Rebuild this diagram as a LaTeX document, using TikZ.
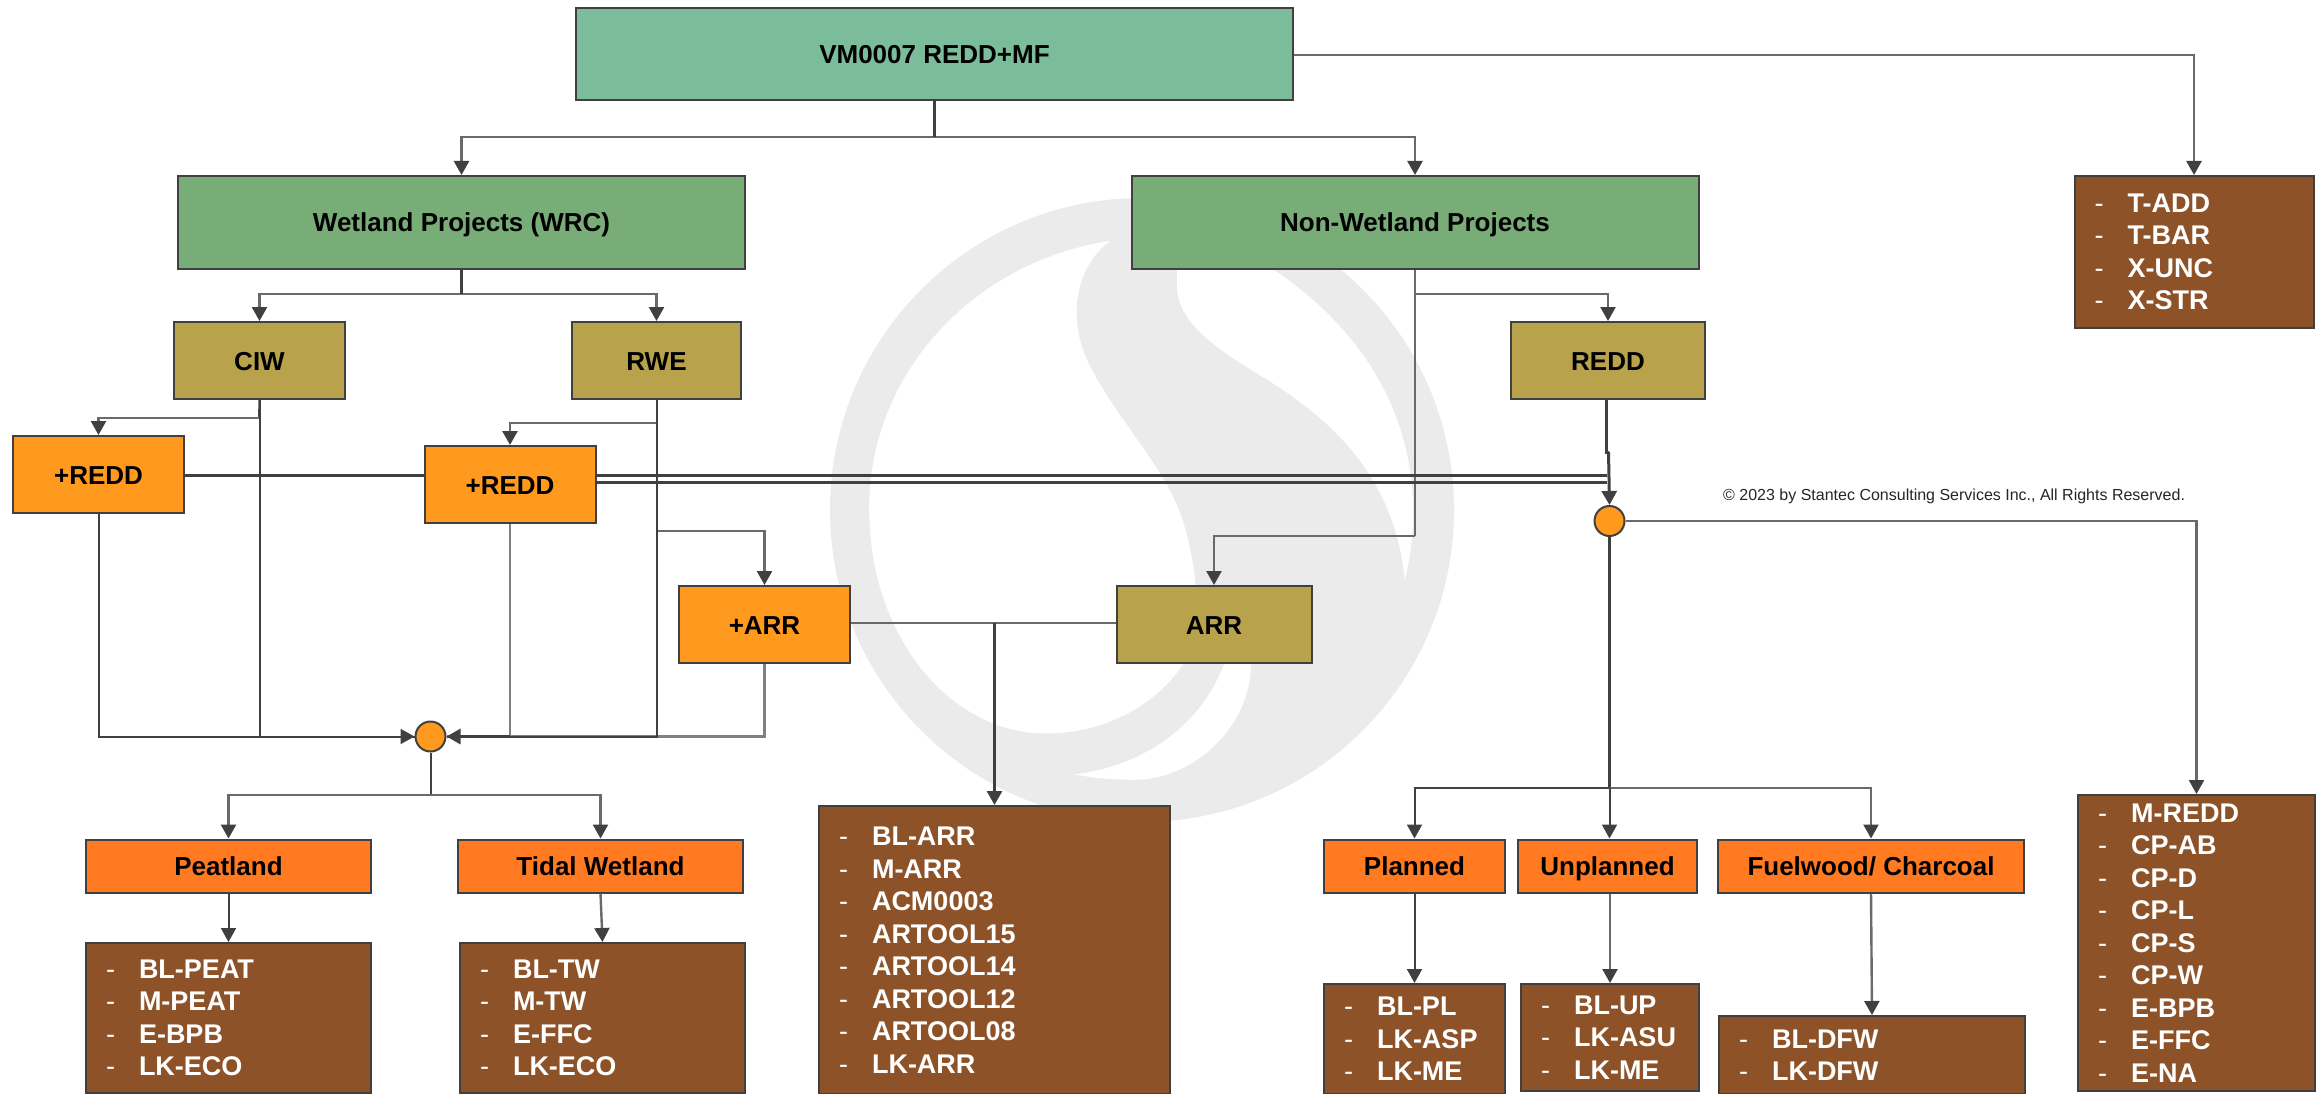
\documentclass[tikz,border=0pt]{standalone}
\usepackage{fontspec}
\setmainfont{Liberation Sans}
\usetikzlibrary{arrows.meta}
\definecolor{ln}{HTML}{404040}
\definecolor{lg}{HTML}{6A6A6A}
\definecolor{cTop}{HTML}{7BBD9A}
\definecolor{cGreen}{HTML}{78AD78}
\definecolor{cOlive}{HTML}{B8A34C}
\definecolor{cAmber}{HTML}{FF9A1F}
\definecolor{cOrange}{HTML}{FF7A21}
\definecolor{cBrown}{HTML}{8E5229}
\definecolor{wm}{HTML}{EBEBEB}
\newcommand{\lst}[1]{\makebox[33pt][l]{\mdseries -}#1}
\tikzset{
  basebox/.style={draw=ln,line width=2pt,inner sep=0pt,text height=19pt,text depth=0pt,font=\fontsize{26}{30}\selectfont\bfseries,text=black},
  top/.style={basebox,fill=cTop,minimum width=717pt,minimum height=92pt},
  grp/.style={basebox,fill=cGreen,minimum width=567pt,minimum height=93pt},
  olive/.style={basebox,fill=cOlive,minimum height=77pt},
  amber/.style={basebox,fill=cAmber,minimum width=171pt,minimum height=77pt},
  kind/.style={basebox,fill=cOrange,minimum height=53pt},
  listbox/.style={draw=ln,line width=2pt,fill=cBrown,text=white,inner xsep=20pt,inner ysep=0pt,align=left,
    font=\fontsize{27}{32.5}\selectfont\bfseries},
  junc/.style={circle,draw=ln,line width=2pt,fill=cAmber,minimum size=30pt,inner sep=0pt},
  conn/.style={draw=ln,line width=2pt},
  gconn/.style={draw=lg,line width=2.4pt},
  thick line/.style={draw=ln,line width=3pt},
  arr/.style={-{Triangle[width=15pt,length=14pt,color=ln,fill=ln]}},
}
\begin{document}
\begin{tikzpicture}[x=1pt,y=-1pt]
\useasboundingbox (0,0) rectangle (2318,1094);
\fill[white] (0,0) rectangle (2318,1094);
% watermark
\fill[wm] (1142,510) circle [radius=312pt];
\begin{scope}[shift={(800,180)},x=0.4464pt,y=-0.4209pt]
\fill[white] (695,145) .. controls (620,200) and (600,320) .. (640,420)
  .. controls (680,520) and (780,640) .. (830,740)
  .. controls (880,840) and (900,1000) .. (880,1110)
  .. controls (820,1240) and (690,1315) .. (550,1315)
  .. controls (340,1315) and (155,1090) .. (155,780)
  .. controls (155,450) and (400,190) .. (695,145) -- cycle;
\fill[white] (845,150) -- (845,260) .. controls (850,340) and (930,400) .. (1040,470)
  .. controls (1160,550) and (1330,680) .. (1355,950)
  .. controls (1395,780) and (1400,450) .. (1050,205) -- cycle;
\fill[white] (615,1412) .. controls (780,1390) and (900,1290) .. (950,1150) -- (1010,1150)
  .. controls (1010,1300) and (880,1425) .. (750,1425)
  .. controls (700,1425) and (650,1420) .. (615,1412) -- cycle;
\end{scope}
% nodes
\node[top] (vm) at (934.5,54) {VM0007 REDD+MF};
\node[grp] (wet) at (461.5,222.5) {Wetland Projects (WRC)};
\node[grp] (non) at (1415,222.5) {Non-Wetland Projects};
\node[olive,minimum width=171pt] (ciw) at (259.5,360.5) {CIW};
\node[olive,minimum width=169pt] (rwe) at (656.5,360.5) {RWE};
\node[olive,minimum width=194pt] (redd) at (1608,360.5) {REDD};
\node[amber] (pr1) at (98.5,474.5) {+REDD};
\node[amber] (pr2) at (510,484.5) {+REDD};
\node[amber] (par) at (764.5,624.5) {+ARR};
\node[olive,minimum width=195pt] (arr) at (1214,624.5) {ARR};
\node[junc] (j1) at (430.5,736.5) {};
\node[junc] (j2) at (1609.5,521) {};
\node[kind,minimum width=285pt] (peat) at (228.5,866) {Peatland};
\node[kind,minimum width=285pt] (tidal) at (600.5,866) {Tidal Wetland};
\node[kind,minimum width=181pt] (plan) at (1414.5,866) {Planned};
\node[kind,minimum width=179pt] (unpl) at (1607.5,866) {Unplanned};
\node[kind,minimum width=306pt] (fuel) at (1871,866) {Fuelwood/ Charcoal};
\node[listbox,minimum height=150pt,text width=245pt] (lpeat) at (228.5,1018)
  {\lst{BL-PEAT}\\\lst{M-PEAT}\\\lst{E-BPB}\\\lst{LK-ECO}};
\node[listbox,minimum height=150pt,text width=245pt] (ltidal) at (602.5,1018)
  {\lst{BL-TW}\\\lst{M-TW}\\\lst{E-FFC}\\\lst{LK-ECO}};
\node[listbox,minimum height=288pt,text width=311pt] (larr) at (994.5,950)
  {\lst{BL-ARR}\\\lst{M-ARR}\\\lst{ACM0003}\\\lst{ARTOOL15}\\\lst{ARTOOL14}\\\lst{ARTOOL12}\\\lst{ARTOOL08}\\\lst{LK-ARR}};
\node[listbox,minimum height=110pt,text width=141pt] (lplan) at (1414.5,1039)
  {\lst{BL-PL}\\\lst{LK-ASP}\\\lst{LK-ME}};
\node[listbox,minimum height=107pt,text width=138pt] (lunpl) at (1610,1037.5)
  {\lst{BL-UP}\\\lst{LK-ASU}\\\lst{LK-ME}};
\node[listbox,minimum height=78pt,text width=266pt] (lfuel) at (1872,1055)
  {\lst{BL-DFW}\\\lst{LK-DFW}};
\node[listbox,minimum height=296pt,text width=197pt] (lmr) at (2196.5,943)
  {\lst{M-REDD}\\\lst{CP-AB}\\\lst{CP-D}\\\lst{CP-L}\\\lst{CP-S}\\\lst{CP-W}\\\lst{E-BPB}\\\lst{E-FFC}\\\lst{E-NA}};
\node[listbox,minimum height=152pt,text width=199pt] (lt) at (2194,252)
  {\lst{T-ADD}\\\lst{T-BAR}\\\lst{X-UNC}\\\lst{X-STR}};
\node[inner sep=0pt,anchor=west,font=\fontsize{16}{20}\selectfont,text=black!85] (copy) at (1723,496)
  {© 2023 by Stantec Consulting Services Inc., All Rights Reserved.};
% connector bends
\coordinate (b0) at (934.5,137);
\coordinate (b1) at (461.5,294);
\coordinate (b2) at (1415,294);
\coordinate (b3) at (1415,536);
\coordinate (b4) at (259,418);
\coordinate (b5) at (657,423);
\coordinate (b6) at (657,531);
\coordinate (b7) at (994.5,623);
\coordinate (b8) at (430.5,795);
\coordinate (b9) at (1609.5,788);
\coordinate (b10) at (1606,452);
\coordinate (b11) at (1608.5,452);
\coordinate (s1) at (184,475);
\coordinate (s2) at (425,475);
\coordinate (s3) at (595,475);
\coordinate (s4) at (1607,475);
\coordinate (s5) at (595,482);
\coordinate (s6) at (1607,482);
% connectors
\draw[gconn,arr] (b0) -| (wet.north);
\draw[gconn,arr] (b0) -| (non.north);
\draw[conn,line width=2.6pt] (vm.south) -- (b0);
\draw[gconn,arr] (vm.east |- 0,55) -| (lt.north);
\draw[gconn,arr] (b1) -| (ciw.north);
\draw[gconn,arr] (b1) -| (rwe.north);
\draw[conn,line width=2.6pt] (wet.south) -- (b1);
\draw[gconn] (non.south) -- (b3);
\draw[gconn,arr] (b2) -| (redd.north);
\draw[gconn,arr] (b3) -| (arr.north);
\draw[conn,arr] (ciw.south) |- (j1.west);
\draw[conn] (ciw.south) -- (b4);
\draw[gconn,arr] (b4) -| (pr1.north);
\draw[conn] (pr1.south) |- (j1.west);
\draw[gconn,arr] (b5) -| (pr2.north);
\draw[gconn,arr] (b6) -| (par.north);
\draw[gconn,draw=gray] (pr2.south) |- (j1.east);
\draw[gconn,draw=gray] (par.south) |- (j1.east);
\draw[conn] (rwe.south) |- (j1.east);
\draw[conn,arr,line width=3pt] (pr2.south |- j1.east) -- (j1.east);
\draw[conn] (j1.south) -- (b8);
\draw[gconn,arr] (b8) -| (peat.north);
\draw[gconn,arr] (b8) -| (tidal.north);
\draw[conn,arr] (peat.south) -- (lpeat.north);
\draw[gconn,arr] (tidal.south) -- (ltidal.north);
\draw[gconn] (par.east |- b7) -- (arr.west |- b7);
\draw[conn,arr,line width=2.6pt] (b7) -- (larr.north);
\draw[thick line] (s1) -- (s2);
\draw[thick line] (s3) -- (s4);
\draw[thick line] (s5) -- (s6);
\draw[thick line] (redd.south -| b10) -- (b10) -- (b11);
\draw[thick line,arr] (b11) -- (j2.north);
\draw[gconn,arr] (j2.east) -| (lmr.north);
\draw[conn,line width=2.6pt] (j2.south) -- (b9);
\draw[conn,arr] (b9) -| (plan.north);
\draw[gconn,arr] (b9) -| (fuel.north);
\draw[conn,arr] (b9) -- (unpl.north -| b9);
\draw[conn,arr] (plan.south) -- (lplan.north);
\draw[gconn,arr] (unpl.south -| lunpl.north) -- (lunpl.north);
\draw[gconn,arr] (fuel.south) -- (lfuel.north);
\end{tikzpicture}
\end{document}
